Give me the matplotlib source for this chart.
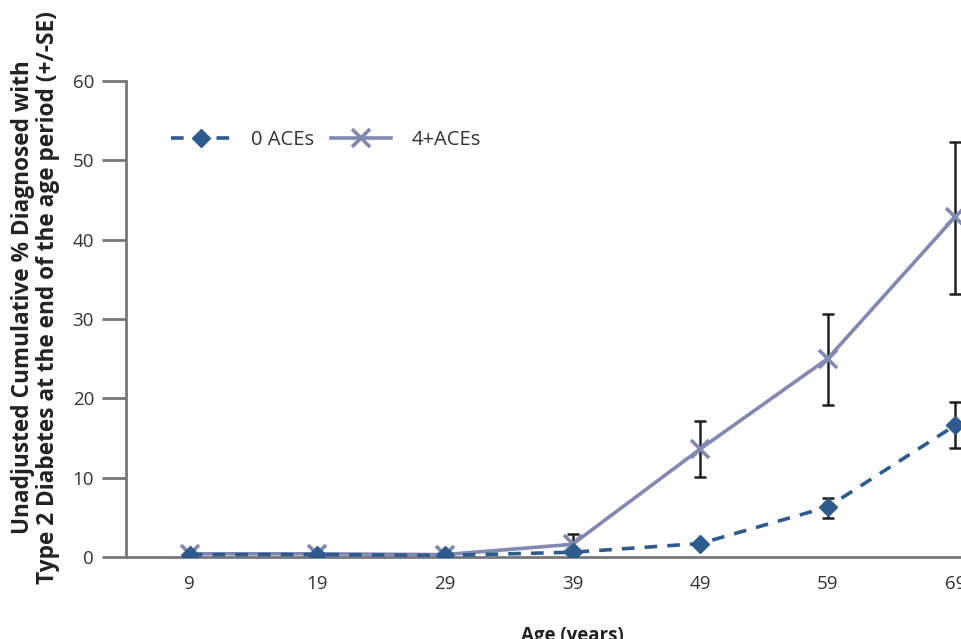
import matplotlib
matplotlib.use("Agg")
import matplotlib.pyplot as plt

plt.rcParams['font.family'] = ['Open Sans', 'DejaVu Sans']

# data
ages = [9, 19, 29, 39, 49, 59, 69]
aces0 = [0.3, 0.3, 0.2, 0.6, 1.7, 6.3, 16.6]
aces0_lo = [0.3, 0.3, 0.2, 0.6, 1.7, 4.9, 13.8]
aces0_hi = [0.3, 0.3, 0.2, 0.6, 1.7, 7.4, 19.5]
aces4 = [0.4, 0.4, 0.3, 1.6, 13.6, 25.0, 42.9]
aces4_lo = [0.4, 0.4, 0.3, 0.4, 10.1, 19.2, 33.1]
aces4_hi = [0.4, 0.4, 0.3, 2.9, 17.2, 30.6, 52.3]
yticks = [0, 10, 20, 30, 40, 50, 60]

DARK = "#2d5b8e"
LIGHT = "#8189b2"
AXIS = "#76777b"

fig = plt.figure(figsize=(9.61, 6.39), dpi=100)
ax = fig.add_axes([126 / 961, 82 / 639, 893 / 961, 476 / 639])

err4 = [[v - l for v, l in zip(aces4, aces4_lo)], [h - v for v, h in zip(aces4, aces4_hi)]]
err0 = [[v - l for v, l in zip(aces0, aces0_lo)], [h - v for v, h in zip(aces0, aces0_hi)]]

ax.errorbar(ages, aces4, yerr=err4, fmt="none", ecolor="#231f20",
            elinewidth=1.8, capsize=4.5, capthick=1.8, zorder=2)
ax.errorbar(ages, aces0, yerr=err0, fmt="none", ecolor="#231f20",
            elinewidth=1.8, capsize=4.5, capthick=1.8, zorder=2)

ax.plot(ages, aces4, color=LIGHT, lw=2.6, marker="x", ms=13, mew=2.6,
        label="4+ACEs", zorder=3)
ax.plot(ages, aces0, color=DARK, lw=2.6, ls=(0, (3.5, 2.8)), marker="D",
        ms=9.5, label="0 ACEs", zorder=4)

ax.set_xlim(4, 74)
ax.set_ylim(0, 60)
ax.set_xticks(ages)
ax.set_yticks(yticks)
ax.tick_params(axis="x", length=0, pad=13, labelsize=13.5, labelcolor="#333333")
ax.tick_params(axis="y", length=17, width=2, color=AXIS, pad=6,
               labelsize=13.5, labelcolor="#333333")
for s in ["top", "right"]:
    ax.spines[s].set_visible(False)
for s in ["left", "bottom"]:
    ax.spines[s].set_color(AXIS)
    ax.spines[s].set_linewidth(2)

ax.set_xlabel("Age (years)", fontsize=13.5, fontweight="bold", color="#222222",
              labelpad=24)
fig.text(0.037, 0.535, "Unadjusted Cumulative % Diagnosed with\nType 2 Diabetes at the end of the age period (+/-SE)",
         rotation=90, ha="center", va="center", fontsize=16.3,
         fontweight="bold", color="#222222", linespacing=1.05)

h, l = ax.get_legend_handles_labels()
ax.legend(h[::-1], l[::-1], loc="upper left", bbox_to_anchor=(0.03, 0.935),
          ncol=2, frameon=False, fontsize=14.5, handlelength=3.0,
          columnspacing=0.8, handletextpad=1.0, labelcolor="#333333")

fig.savefig("out.png", dpi=100)
